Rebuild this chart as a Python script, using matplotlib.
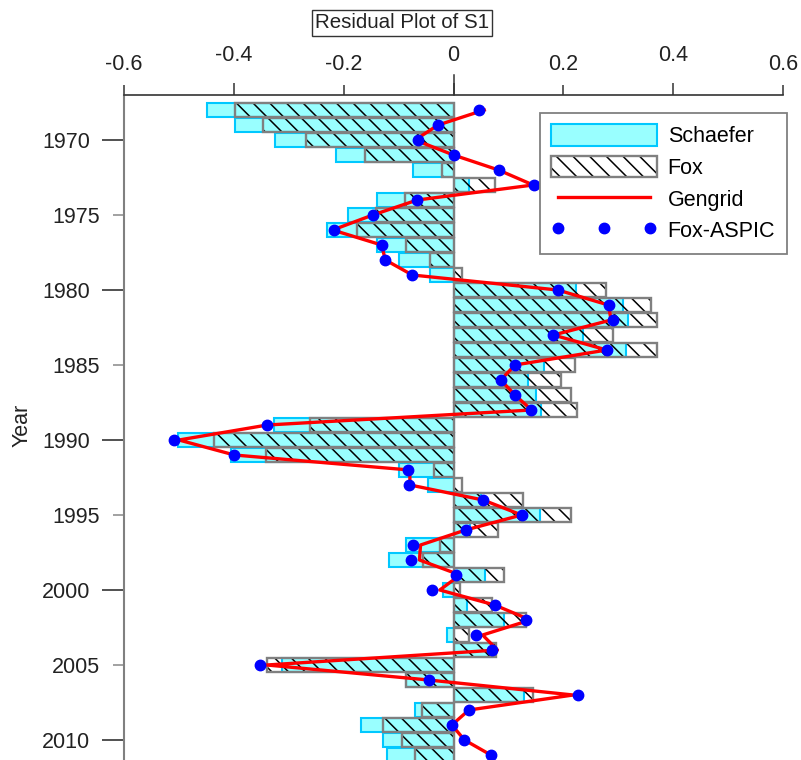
## Residual plot of S1: Schaefer / Fox bars with Gengrid and Fox-ASPIC overlays ##

import numpy as np
import matplotlib.pyplot as plt
from matplotlib.patches import Patch
from matplotlib.lines import Line2D

plt.rcParams['font.family'] = ['Liberation Sans', 'DejaVu Sans']
plt.rcParams['hatch.linewidth'] = 1.1

## Data ##

years = np.arange(1968, 2012)

schaefer = [-0.448, -0.398, -0.325, -0.214, -0.074, 0.029, -0.139, -0.192, -0.230, -0.139,
            -0.099, -0.042, 0.223, 0.308, 0.317, 0.235, 0.314, 0.165, 0.136, 0.151,
            0.159, -0.327, -0.501, -0.405, -0.100, -0.046, 0.050, 0.157, 0.030, -0.087,
            -0.118, 0.058, -0.019, 0.024, 0.092, -0.011, 0.070, -0.312, -0.087, 0.128,
            -0.071, -0.168, -0.128, -0.122]

fox = [-0.398, -0.347, -0.268, -0.162, -0.021, 0.075, -0.089, -0.142, -0.176, -0.087,
       -0.042, 0.016, 0.278, 0.359, 0.371, 0.291, 0.371, 0.222, 0.195, 0.214,
       0.225, -0.262, -0.436, -0.341, -0.036, 0.016, 0.127, 0.214, 0.081, -0.024,
       -0.055, 0.092, 0.011, 0.071, 0.132, 0.028, 0.077, -0.339, -0.087, 0.145,
       -0.057, -0.129, -0.093, -0.071]

gengrid = [0.056, -0.028, -0.070, 0.000, 0.082, 0.145, -0.066, -0.147, -0.220, -0.131,
           -0.124, -0.075, 0.190, 0.282, 0.287, 0.182, 0.279, 0.112, 0.086, 0.112,
           0.142, -0.339, -0.500, -0.399, -0.080, -0.079, 0.054, 0.124, 0.022, -0.060,
           -0.062, 0.012, -0.025, 0.075, 0.140, 0.053, 0.080, -0.340, -0.045, 0.218,
           0.028, -0.003, 0.020, 0.068]

fox_aspic = [0.047, -0.028, -0.065, 0.000, 0.082, 0.147, -0.066, -0.147, -0.218, -0.131,
             -0.124, -0.075, 0.190, 0.284, 0.290, 0.182, 0.279, 0.112, 0.086, 0.112,
             0.142, -0.339, -0.509, -0.399, -0.083, -0.081, 0.054, 0.124, 0.022, -0.074,
             -0.078, 0.005, -0.040, 0.075, 0.132, 0.041, 0.070, -0.353, -0.045, 0.227,
             0.028, -0.003, 0.020, 0.068]

x_major = [-0.4, 0, 0.4]
x_minor = [-0.6, -0.2, 0.2, 0.6]
y_major = [1970, 1980, 1990, 2000, 2010]
y_minor = [1975, 1985, 1995, 2005]

## Colours and text size ##

cyan_face = '#99FFFF'
cyan_edge = '#00C8FF'
fox_edge = '#808080'
txt = '#222222'
fs = 15.5

fig = plt.figure(figsize=(8.01, 7.6), dpi=100)
ax = fig.add_axes([124 / 801, 0.0, (783 - 124) / 801, 1 - 95 / 760])

bar_h = 0.88

## Schaefer bars, then the Fox hatching and its grey outline on top ##

ax.barh(years, schaefer, height=bar_h, color=cyan_face, edgecolor=cyan_edge, linewidth=1.5, zorder=2)
ax.barh(years, fox, height=bar_h, facecolor='none', edgecolor='black', linewidth=0,
        hatch='\\\\', zorder=3)
ax.barh(years, fox, height=bar_h, facecolor='none', edgecolor=fox_edge, linewidth=1.7, zorder=4)

ax.plot(gengrid, years, color='red', linewidth=2.4, zorder=5)
ax.plot(fox_aspic, years, linestyle='none', marker='o', markersize=7.5, color='blue', zorder=6)

## Axes limits and spines ##

ax.set_xlim(-0.6, 0.6)
ax.set_ylim(1967 + 665 / 15, 1967)

ax.spines['right'].set_visible(False)
ax.spines['bottom'].set_visible(False)
ax.spines['top'].set_color('#333333')
ax.spines['top'].set_linewidth(1.2)
ax.spines['left'].set_color('#808080')
ax.spines['left'].set_linewidth(1.5)

## X ticks on top, alternating heights ##

ax.xaxis.tick_top()
ax.set_xticks(x_major)
ax.set_xticklabels(['-0.4', '0', '0.4'])
ax.set_xticks(x_minor, minor=True)
ax.set_xticklabels(['-0.6', '-0.2', '0.2', '0.6'], minor=True)
ax.tick_params(axis='x', which='major', length=8.6, width=1.1, pad=12, labelsize=fs,
               color='#333333', labelcolor=txt)
ax.tick_params(axis='x', which='minor', length=7.2, width=1.1, pad=7, labelsize=fs,
               color='#333333', labelcolor=txt)
ax.plot([0, 0], [1, 1 + 20 / 665], transform=ax.get_xaxis_transform(), clip_on=False,
        color='#333333', linewidth=1.1)

## Y ticks ##

ax.set_yticks(y_major)
ax.set_yticklabels([str(y) for y in y_major])
ax.set_yticks(y_minor, minor=True)
ax.set_yticklabels([str(y) for y in y_minor], minor=True)
ax.tick_params(axis='y', which='major', length=16, width=1.1, pad=8.4, labelsize=fs,
               color=txt, labelcolor=txt)
ax.tick_params(axis='y', which='minor', length=8, width=1.1, pad=9.4, labelsize=fs,
               color='#888888', labelcolor=txt)

fig.text(22 / 801, 1 - 425 / 760, 'Year', rotation=90, fontsize=fs, color=txt,
         ha='center', va='center')

## Title in a box ##

fig.text(402 / 801, 1 - 23 / 760, 'Residual Plot of S1', fontsize=14.8, color=txt,
         ha='center', va='center',
         bbox=dict(boxstyle='square,pad=0.15', facecolor='white', edgecolor='#333333', linewidth=1.0))

## Legend ##

schaefer_handle = Patch(facecolor=cyan_face, edgecolor=cyan_edge, linewidth=1.5)
fox_handle = (Patch(facecolor='white', edgecolor='black', linewidth=0, hatch='\\\\'),
              Patch(facecolor='none', edgecolor=fox_edge, linewidth=1.7))
gengrid_handle = Line2D([], [], color='red', linewidth=2.4)
aspic_handle = Line2D([], [], linestyle='none', marker='o', markersize=7.5, color='blue')

leg = ax.legend([schaefer_handle, fox_handle, gengrid_handle, aspic_handle],
                ['Schaefer', 'Fox', 'Gengrid', 'Fox-ASPIC'],
                loc='upper right', bbox_to_anchor=(787 / 801, 1 - 112.5 / 760),
                bbox_transform=fig.transFigure, fontsize=fs, numpoints=3,
                handlelength=4.9, handleheight=1.16, handletextpad=0.5,
                labelspacing=0.4, borderpad=0.55, borderaxespad=0,
                fancybox=False, framealpha=1, edgecolor='#808080')
leg.get_frame().set_linewidth(1.3)
leg.set_zorder(10)

fig.savefig('out.png', dpi=100)
